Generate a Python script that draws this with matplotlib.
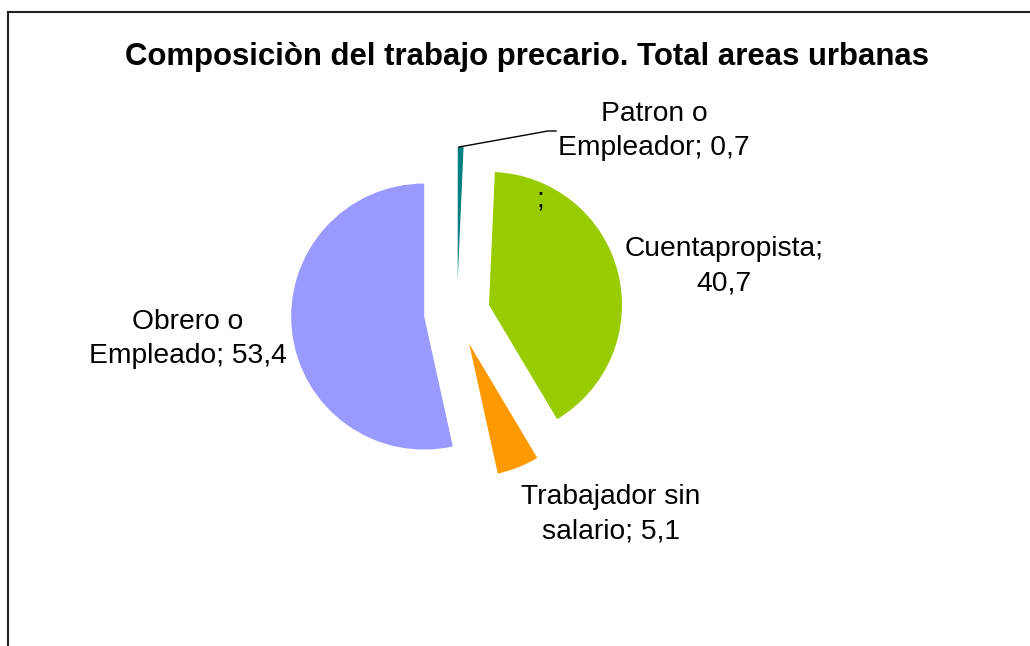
import matplotlib.pyplot as plt
from matplotlib.lines import Line2D

# ---------------------------------------------------------
# Data
# ---------------------------------------------------------
categories = ["Patron o\nEmpleador", "Cuentapropista", "Trabajador sin\nsalario", "Obrero o\nEmpleado"]
values = [0.7, 40.7, 5.1, 53.4]
value_labels = ["0,7", "40,7", "5,1", "53,4"]
colors = ["#008080", "#99CC00", "#FF9900", "#9999FF"]

title = "Composiciòn del trabajo precario. Total areas urbanas"

# ---------------------------------------------------------
# Figure: axes in pixel units (y up)
# ---------------------------------------------------------
W, H = 1030, 646
fig = plt.figure(figsize=(W / 100, H / 100), dpi=100)
ax = fig.add_axes([0, 0, 1, 1])

plt.rcParams["font.family"] = ["Liberation Sans", "DejaVu Sans"]

radius = 133
center = (457, H - 313)
ax.pie(values, colors=colors, startangle=90, counterclock=False,
       radius=radius, center=center, explode=[33] * len(values),
       wedgeprops=dict(linewidth=0), frame=True)
ax.set_xlim(0, W)
ax.set_ylim(0, H)
ax.set_aspect("equal")
ax.axis("off")

# labels
label_pos = [(654, 131), (724, 266), (611, 514), (188, 339)]
texts = [
    "Patron o\nEmpleador; " + value_labels[0],
    "Cuentapropista;\n" + value_labels[1],
    "Trabajador sin\nsalario; " + value_labels[2],
    "Obrero o\nEmpleado; " + value_labels[3],
]
for (x, y), t in zip(label_pos, texts):
    ax.text(x, H - y, t, ha="center", va="center", fontsize=20.3,
            linespacing=1.4, family="Liberation Sans")

ax.text(540, H - 200, ";", ha="center", va="center", fontsize=20,
        family="Liberation Sans")

# leader line for the small slice
ax.plot([459, 548, 556], [H - 147, H - 131, H - 131], color="black", lw=1)

ax.text(527, H - 57, title, ha="center", va="center", fontsize=22.4,
        fontweight="bold", family="Liberation Sans")

# chart-area frame (left and top)
fig.add_artist(Line2D([8 / W, 8 / W], [0, 1 - 12 / H], color="#222222", lw=1.5,
                      transform=fig.transFigure))
fig.add_artist(Line2D([8 / W, 1], [1 - 12 / H, 1 - 12 / H], color="#222222", lw=1.5,
                      transform=fig.transFigure))

plt.savefig("out.png", dpi=100)
